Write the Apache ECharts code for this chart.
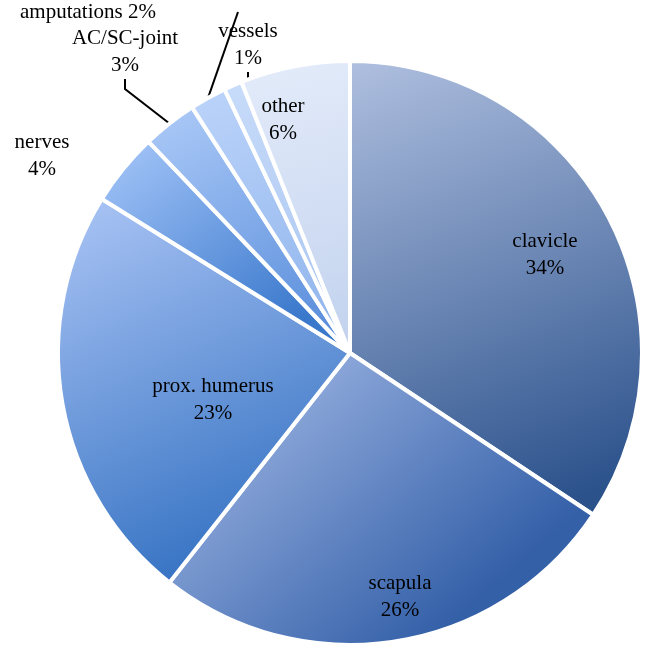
<!DOCTYPE html><html><head><meta charset="utf-8"><script src="https://cdn.jsdelivr.net/npm/echarts@6/dist/echarts.min.js"></script>
<style>html,body{margin:0;background:#fff}#c{width:646px;height:652px}</style></head><body><div id="c"></div><script>
const categories=["clavicle","scapula","prox. humerus","nerves","AC/SC-joint","amputations","vessels","other"];
const values=[34,26,23,4,3,2,1,6];
const labelTexts=["clavicle\n34%","scapula\n26%","prox. humerus\n23%","nerves\n4%","AC/SC-joint\n3%","amputations 2%","vessels\n1%","other\n6%"];
const colors=[["#b0c0e0","#2c528c"],["#b0c4ee","#3460a8"],["#adc6f6","#2f6ec0"],["#a8c8fa","#3a78cc"],["#aecbf8","#5b8fdc"],["#bcd4fa","#8fb4ec"],["#c8dcfa","#a8c4f0"],["#e4ecfa","#c2d2ee"]];
const labelPos={"clavicle":[545,255],"scapula":[400,597],"prox. humerus":[213,400],"other":[283,120],"nerves":[42,156],"AC/SC-joint":[125,52],"amputations":[88,12],"vessels":[248,45]};
const outer=["nerves","AC/SC-joint","amputations","vessels"];
const chart=echarts.init(document.getElementById('c'));
chart.setOption({animation:false,series:[{type:'pie',center:[350,353],radius:[0,292],startAngle:90,clockwise:true,
itemStyle:{borderColor:'#fff',borderWidth:4},
labelLine:{show:true,lineStyle:{color:'#000',width:2},length:10,length2:10},
labelLayout:function(p){const n=categories[p.dataIndex];const q=labelPos[n];return {x:q[0],y:q[1],align:'center',verticalAlign:'middle'};},
data:categories.map((n,i)=>({name:n,value:values[i],
itemStyle:{color:new echarts.graphic.LinearGradient(0,0,0.6,1,[{offset:0,color:colors[i][0]},{offset:1,color:colors[i][1]}])},
label:{show:true,formatter:labelTexts[i],position:outer.includes(n)?'outside':'inside',overflow:'none',width:300,color:'#000',fontFamily:'Liberation Serif',fontSize:21,lineHeight:27},
labelLine:{show:outer.includes(n)}}))}]});
</script></body></html>
